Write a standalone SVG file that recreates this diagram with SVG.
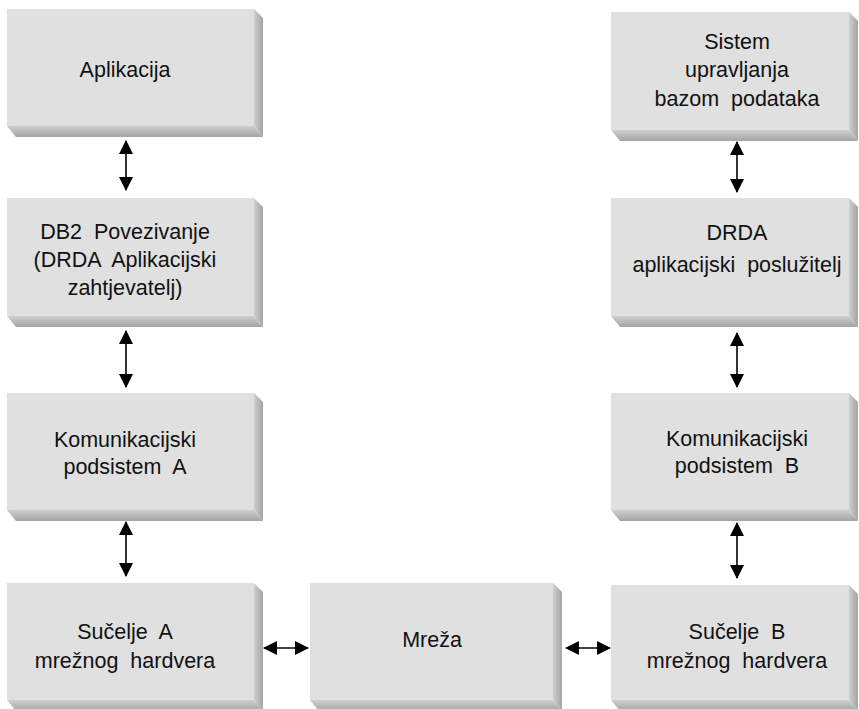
<svg xmlns="http://www.w3.org/2000/svg" width="859" height="709" viewBox="0 0 859 709">
<defs>
<linearGradient id="gr" x1="0" y1="0" x2="1" y2="0"><stop offset="0" stop-color="#cfcfcf"/><stop offset="1" stop-color="#a4a4a4"/></linearGradient>
<linearGradient id="gb" x1="0" y1="0" x2="0" y2="1"><stop offset="0" stop-color="#cfcfcf"/><stop offset="1" stop-color="#a4a4a4"/></linearGradient>
<marker id="ah" viewBox="0 0 14 14" refX="13" refY="7" markerWidth="14" markerHeight="14" markerUnits="userSpaceOnUse" orient="auto-start-reverse"><path d="M0,0 L14,7 L0,14 Z" fill="#000"/></marker>
</defs>
<style>
.face{fill:#e0e0e0}
.sr{fill:url(#gr)}
.sb{fill:url(#gb)}
text{font-family:"Liberation Sans",Arial,Helvetica,sans-serif;font-size:21.5px;fill:#111;text-anchor:middle;white-space:pre}
.c{stroke:#000;stroke-width:1.6;fill:none;marker-start:url(#ah);marker-end:url(#ah)}
</style>
<rect width="859" height="709" fill="#fff"/>
<g id="app">
<polygon class="sb" points="7,126 254,126 263,137 16,137"/><polygon class="sr" points="254,9 263,18 263,137 254,126"/><rect class="face" x="7" y="9" width="247" height="117"/>
<text x="125" y="77">Aplikacija</text>
</g>
<g id="db2">
<polygon class="sb" points="7,316 254,316 263,327 16,327"/><polygon class="sr" points="254,198 263,207 263,327 254,316"/><rect class="face" x="7" y="198" width="247" height="118"/>
<text x="125" y="239">DB2  Povezivanje</text>
<text x="125" y="267">(DRDA  Aplikacijski</text>
<text x="125" y="295">zahtjevatelj)</text>
</g>
<g id="kommA">
<polygon class="sb" points="7,510 254,510 263,521 16,521"/><polygon class="sr" points="254,393 263,402 263,521 254,510"/><rect class="face" x="7" y="393" width="247" height="117"/>
<text x="125" y="447">Komunikacijski</text>
<text x="125" y="474">podsistem  A</text>
</g>
<g id="sucA">
<polygon class="sb" points="7,700 254,700 263,711 16,711"/><polygon class="sr" points="254,583 263,592 263,711 254,700"/><rect class="face" x="7" y="583" width="247" height="117"/>
<text x="125" y="639">Sučelje  A</text>
<text x="125" y="668">mrežnog  hardvera</text>
</g>
<g id="mreza">
<polygon class="sb" points="310,700 553,700 562,711 319,711"/><polygon class="sr" points="553,583 562,592 562,711 553,700"/><rect class="face" x="310" y="583" width="243" height="117"/>
<text x="432" y="647">Mreža</text>
</g>
<g id="dbms">
<polygon class="sb" points="611,130 849,130 858,141 620,141"/><polygon class="sr" points="849,12 858,21 858,141 849,130"/><rect class="face" x="611" y="12" width="238" height="118"/>
<text x="737" y="49">Sistem</text>
<text x="737" y="77">upravljanja</text>
<text x="737" y="106">bazom  podataka</text>
</g>
<g id="drda">
<polygon class="sb" points="611,316 849,316 858,327 620,327"/><polygon class="sr" points="849,198 858,207 858,327 849,316"/><rect class="face" x="611" y="198" width="238" height="118"/>
<text x="737" y="240">DRDA</text>
<text x="737" y="272">aplikacijski  poslužitelj</text>
</g>
<g id="kommB">
<polygon class="sb" points="611,510 849,510 858,521 620,521"/><polygon class="sr" points="849,393 858,402 858,521 849,510"/><rect class="face" x="611" y="393" width="238" height="117"/>
<text x="737" y="446">Komunikacijski</text>
<text x="737" y="473">podsistem  B</text>
</g>
<g id="sucB">
<polygon class="sb" points="611,700 849,700 858,711 620,711"/><polygon class="sr" points="849,585 858,594 858,711 849,700"/><rect class="face" x="611" y="585" width="238" height="115"/>
<text x="737" y="639">Sučelje  B</text>
<text x="737" y="668">mrežnog  hardvera</text>
</g>
<g id="connectors">
<line class="c" x1="126" y1="141" x2="126" y2="190"/>
<line class="c" x1="126" y1="331" x2="126" y2="387"/>
<line class="c" x1="126" y1="522" x2="126" y2="576"/>
<line class="c" x1="737" y1="142" x2="737" y2="192"/>
<line class="c" x1="737" y1="333" x2="737" y2="387"/>
<line class="c" x1="737" y1="523" x2="737" y2="578"/>
<line class="c" x1="264" y1="648" x2="308" y2="648"/>
<line class="c" x1="566" y1="648" x2="610" y2="648"/>
</g>
</svg>
